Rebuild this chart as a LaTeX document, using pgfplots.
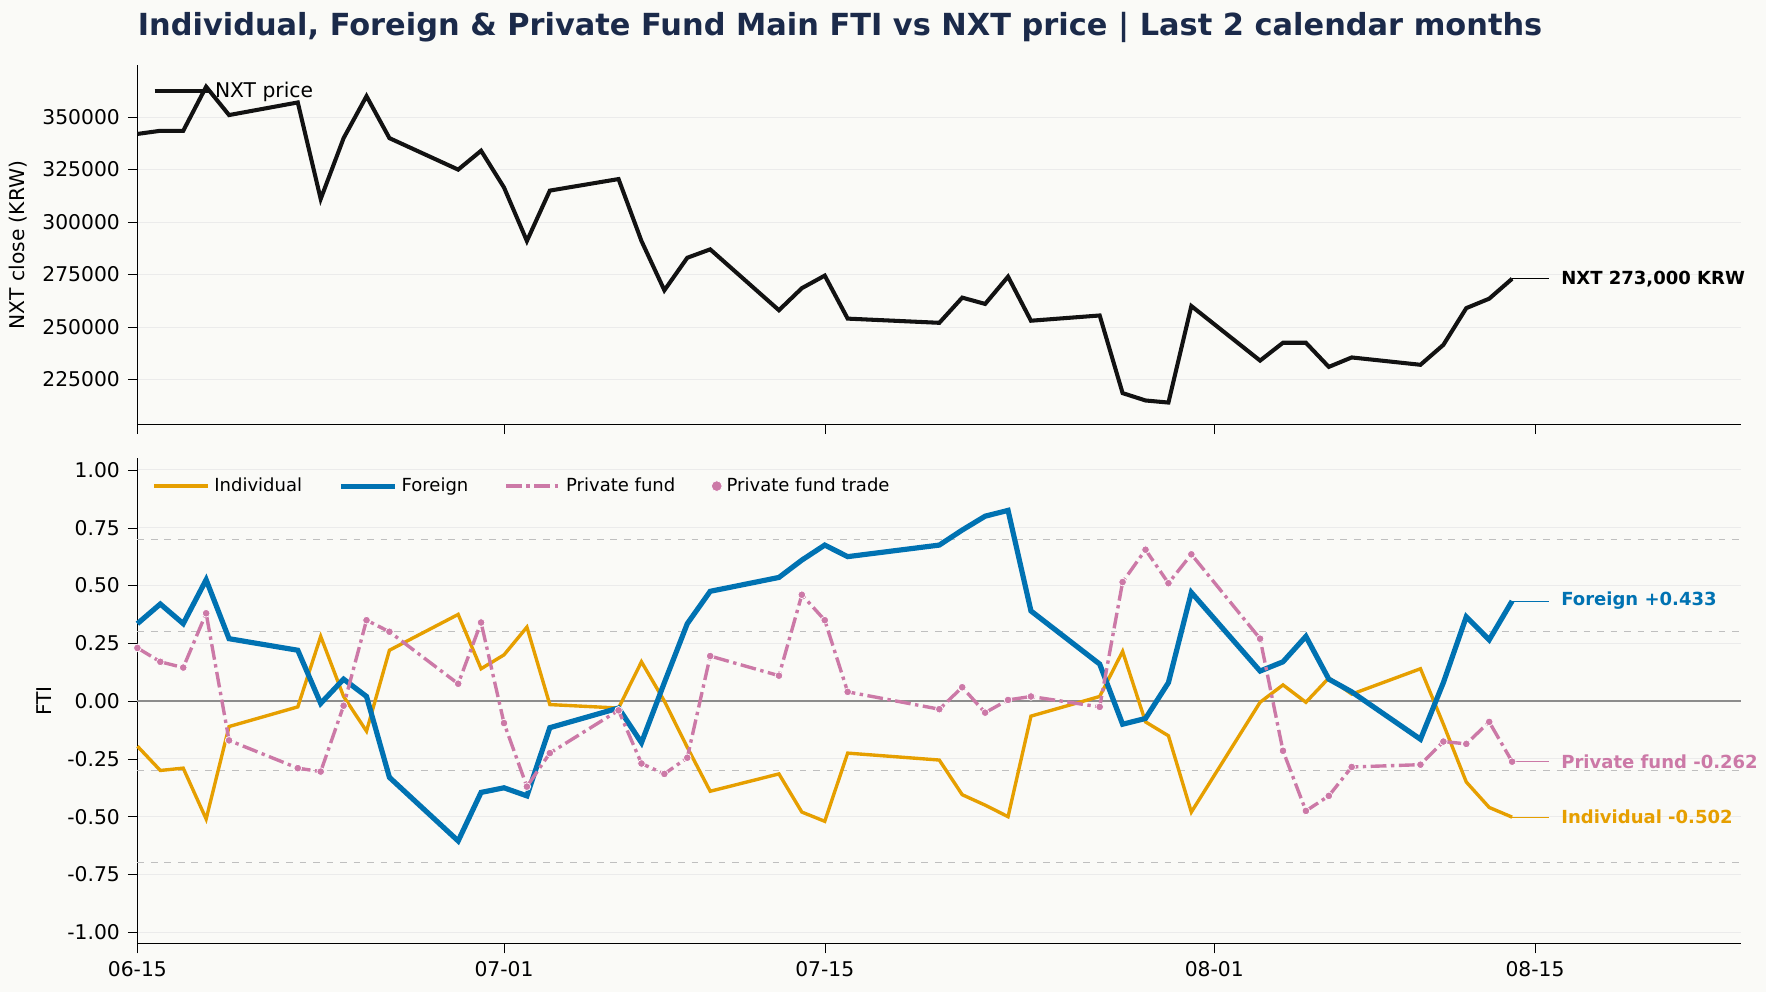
\documentclass[border=0pt]{standalone}
\usepackage{pgfplots}
\usepackage{pgfplotstable}
\pgfplotsset{compat=1.18}
\usepackage{fontspec}
\setmainfont{DejaVu Sans}
\definecolor{bg}{HTML}{FAFAF7}
\definecolor{ind}{HTML}{E69F00}
\definecolor{fgn}{HTML}{0072B2}
\definecolor{pf}{HTML}{CC79A7}
\definecolor{ttl}{HTML}{1B2A4A}
\pgfplotstableread{
d price ind fgn pf
0 342000 -0.195 0.335 0.23
1 343500 -0.30 0.42 0.17
2 343500 -0.29 0.335 0.145
3 364500 -0.51 0.525 0.38
4 351000 -0.11 0.27 -0.17
7 357000 -0.025 0.22 -0.29
8 311000 0.28 -0.01 -0.305
9 340000 0.02 0.095 -0.02
10 360000 -0.13 0.02 0.35
11 340000 0.22 -0.33 0.30
14 325000 0.375 -0.605 0.075
15 334000 0.14 -0.395 0.34
16 316500 0.2 -0.375 -0.095
17 291000 0.32 -0.41 -0.37
18 315000 -0.015 -0.115 -0.225
21 320500 -0.03 -0.03 -0.04
22 291000 0.17 -0.18 -0.27
23 267500 0.0 0.08 -0.315
24 283000 -0.2 0.335 -0.245
25 287000 -0.39 0.475 0.195
28 258000 -0.315 0.535 0.11
29 268500 -0.48 0.61 0.46
30 274500 -0.52 0.675 0.35
31 254000 -0.225 0.625 0.04
35 252000 -0.255 0.675 -0.035
36 264000 -0.405 0.74 0.06
37 261000 -0.45 0.80 -0.05
38 274000 -0.50 0.825 0.005
39 253000 -0.065 0.39 0.02
42 255500 0.02 0.16 -0.025
43 218500 0.215 -0.10 0.515
44 215000 -0.09 -0.075 0.655
45 214000 -0.15 0.08 0.51
46 260000 -0.48 0.47 0.635
49 234000 -0.005 0.13 0.27
50 242500 0.07 0.17 -0.215
51 242500 -0.005 0.28 -0.475
52 231000 0.1 0.095 -0.41
53 235500 0.03 0.04 -0.285
56 232000 0.14 -0.165 -0.275
57 241500 -0.1 0.08 -0.175
58 259000 -0.35 0.365 -0.185
59 263500 -0.46 0.265 -0.09
60 273000 -0.502 0.433 -0.262
}\data
\pgfplotsset{
  common/.style={
    scale only axis, width=712pt, xmin=0, xmax=70,
    axis x line*=bottom, axis y line*=left,
    xtick={0,16,30,47,61},
    tick align=outside, tick style={black},
    ymajorgrids, grid style={black!8},
    /pgf/number format/assume math mode=true,
    tick label style={font=\fontsize{9}{10}\selectfont},
    label style={font=\fontsize{9}{10}\selectfont},
    clip=false,
    legend cell align=left,
    legend style={draw=none, fill=none, font=\fontsize{8}{9}\selectfont},
    legend image post style={scale=1.4},
  }
}
\begin{document}
\begin{tikzpicture}
\fill[bg] (0,0) rectangle (784pt,-440.5pt);
\node[anchor=west, inner sep=0pt, text=ttl, font=\bfseries\fontsize{13.5}{15}\selectfont] at (61pt,-12pt) {Individual, Foreign \& Private Fund Main FTI vs NXT price | Last 2 calendar months};
\begin{axis}[common, at={(61pt,-29pt)}, anchor=north west, height=159.5pt,
  ymin=203500, ymax=374700, ytick={225000,250000,275000,300000,325000,350000},
  yticklabel style={/pgf/number format/fixed,/pgf/number format/1000 sep={}},
  scaled y ticks=false, xticklabels={},
  ylabel={NXT close (KRW)},
  legend style={at={(0.005,0.98)}, anchor=north west, font=\fontsize{9}{10}\selectfont}]
\addplot[black!93, line width=1.8pt] table[x=d,y=price]{\data};
\addlegendentry{NXT price}
\draw[black, thin] (axis cs:60,273000) -- (axis cs:61.6,273000);
\node[anchor=west, font=\bfseries\fontsize{8}{9}\selectfont] at (axis cs:61.8,273000) {NXT 273,000 KRW};
\end{axis}
\begin{axis}[common, at={(61pt,-203.5pt)}, anchor=north west, height=215.5pt,
  ymin=-1.05, ymax=1.05, ytick={-1,-0.75,...,1},
  yticklabel style={/pgf/number format/fixed,/pgf/number format/fixed zerofill,/pgf/number format/precision=2},
  xticklabels={06-15,07-01,07-15,08-01,08-15},
  ylabel={FTI},
  legend style={at={(0.005,0.98)}, anchor=north west, legend columns=4, /tikz/every even column/.append style={column sep=14pt}}]
\draw[black!25, dashed] (axis cs:0,0.7) -- (axis cs:70,0.7);
\draw[black!25, dashed] (axis cs:0,0.3) -- (axis cs:70,0.3);
\draw[black!25, dashed] (axis cs:0,-0.3) -- (axis cs:70,-0.3);
\draw[black!25, dashed] (axis cs:0,-0.7) -- (axis cs:70,-0.7);
\draw[black!45, thick] (axis cs:0,0) -- (axis cs:70,0);
\addplot[ind, line width=1.5pt] table[x=d,y=ind]{\data};
\addlegendentry{Individual}
\addplot[fgn, line width=2.3pt] table[x=d,y=fgn]{\data};
\addlegendentry{Foreign}
\addplot[pf, line width=1.5pt, dash pattern=on 7pt off 2pt on 1.5pt off 2pt] table[x=d,y=pf]{\data};
\addlegendentry{Private fund}
\addplot[only marks, mark=*, mark size=1.7pt, pf, mark options={draw=white, line width=0.3pt, fill=pf}] table[x=d,y=pf]{\data};
\addlegendentry{Private fund trade}
\draw[fgn, thin] (axis cs:60,0.433) -- (axis cs:61.6,0.433);
\node[anchor=west, text=fgn, font=\bfseries\fontsize{8}{9}\selectfont] at (axis cs:61.8,0.433) {Foreign +0.433};
\draw[pf, thin] (axis cs:60,-0.262) -- (axis cs:61.6,-0.262);
\node[anchor=west, text=pf, font=\bfseries\fontsize{8}{9}\selectfont] at (axis cs:61.8,-0.262) {Private fund -0.262};
\draw[ind, thin] (axis cs:60,-0.502) -- (axis cs:61.6,-0.502);
\node[anchor=west, text=ind, font=\bfseries\fontsize{8}{9}\selectfont] at (axis cs:61.8,-0.502) {Individual -0.502};
\end{axis}
\end{tikzpicture}
\end{document}
